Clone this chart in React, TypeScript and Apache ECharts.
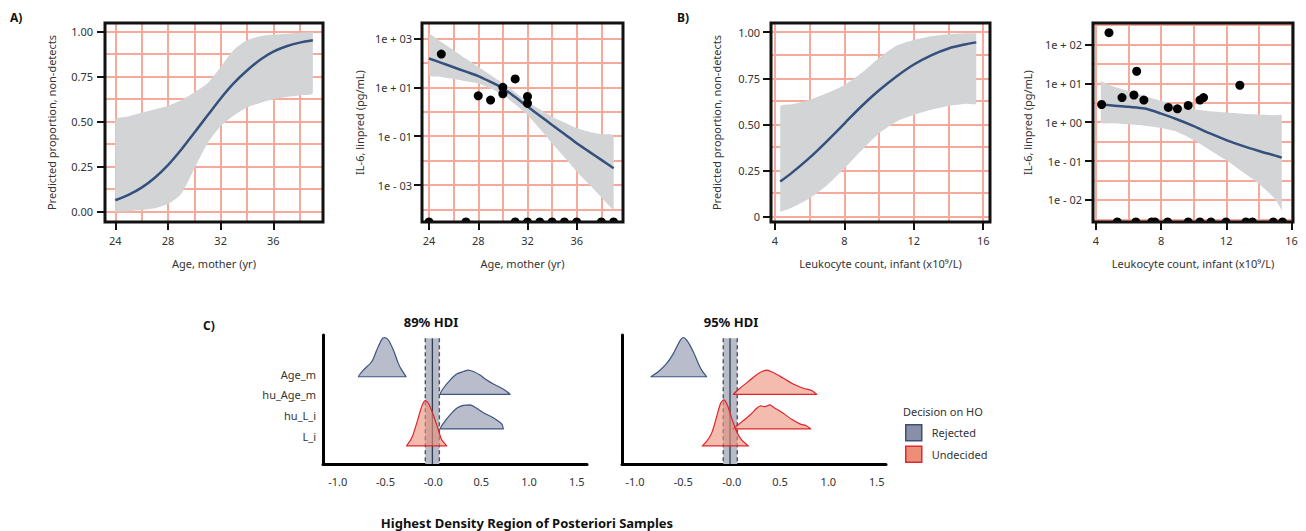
import React, { useEffect, useRef } from 'react';
import * as echarts from 'echarts';

// ---------------- Panel A: maternal age ----------------
const ageGridBreaks = [24, 26, 28, 30, 32, 34, 36, 38];
const ageTickBreaks = [24, 28, 32, 36];
const propGridBreaks = [0, 0.125, 0.25, 0.375, 0.5, 0.625, 0.75, 0.875, 1];
const propTickBreaks = [0, 0.25, 0.5, 0.75, 1];

const ageFitX = [24, 25, 26, 27, 28, 29, 30, 31, 32, 33, 34, 35, 36, 37, 38, 39];
const ageHurdleFit = [0.065, 0.095, 0.135, 0.19, 0.26, 0.345, 0.44, 0.535, 0.63, 0.715, 0.785, 0.845, 0.89, 0.92, 0.94, 0.953];
const ageHurdleUpper = [0.51, 0.53, 0.55, 0.57, 0.59, 0.62, 0.665, 0.715, 0.805, 0.9, 0.953, 0.975, 0.985, 0.99, 0.995, 0.997];
const ageHurdleLower = [0.0, 0.003, 0.01, 0.02, 0.045, 0.1, 0.24, 0.38, 0.475, 0.535, 0.58, 0.605, 0.625, 0.638, 0.648, 0.66];

const il6LogGridA = [-4, -3, -2, -1, 0, 1, 2, 3];
const il6LogTicksA = [-3, -1, 1, 3];
const ageLinpredFit = [2.18, 2.0, 1.82, 1.64, 1.46, 1.22, 0.96, 0.6, 0.21, -0.16, -0.54, -0.91, -1.29, -1.63, -1.97, -2.31];
const ageLinpredUpper = [3.2, 2.85, 2.52, 2.17, 1.84, 1.5, 1.16, 0.8, 0.41, 0.1, -0.2, -0.44, -0.67, -0.82, -0.92, -0.99];
const ageLinpredLower = [1.5, 1.42, 1.34, 1.25, 1.16, 0.95, 0.69, 0.3, -0.13, -0.7, -1.29, -1.86, -2.44, -2.97, -3.5, -4.03];
const ageDetectX = [25, 28, 29, 30, 30, 31, 32, 32];
const ageDetectIL6 = [229, 4.5, 3.0, 10, 5.4, 21.9, 4.2, 2.2]; // pg/mL
const ageNonDetectX = [24, 27, 31, 32, 33, 34, 35, 36, 38, 39];

// ---------------- Panel B: infant leukocytes ----------------
const leukGridBreaks = [4, 6, 8, 10, 12, 14, 16];
const leukTickBreaks = [4, 8, 12, 16];

const leukFitX = [4.3, 5, 6, 7, 8, 9, 10, 11, 12, 13, 14, 15, 15.6];
const leukHurdleFit = [0.19, 0.24, 0.32, 0.41, 0.505, 0.6, 0.685, 0.76, 0.825, 0.875, 0.912, 0.935, 0.945];
const leukHurdleUpper = [0.597, 0.61, 0.633, 0.67, 0.714, 0.78, 0.86, 0.926, 0.958, 0.978, 0.989, 0.994, 0.995];
const leukHurdleLower = [0.027, 0.05, 0.1, 0.17, 0.262, 0.36, 0.452, 0.515, 0.552, 0.58, 0.6, 0.612, 0.615];

const il6LogGridB = [-2.5, -2, -1.5, -1, -0.5, 0, 0.5, 1, 1.5, 2, 2.5];
const il6LogTicksB = [-2, -1, 0, 1, 2];
const leukFitX2 = [4.3, 5, 6, 7, 8, 9, 10, 11, 12, 13, 14, 15, 15.4];
const leukLinpredFit = [0.455, 0.43, 0.395, 0.35, 0.22, 0.07, -0.1, -0.29, -0.46, -0.61, -0.74, -0.86, -0.91];
const leukLinpredUpper = [1.06, 0.93, 0.8, 0.67, 0.55, 0.42, 0.33, 0.28, 0.25, 0.22, 0.2, 0.18, 0.17];
const leukLinpredLower = [0.0, -0.03, -0.06, -0.09, -0.15, -0.25, -0.46, -0.72, -0.98, -1.28, -1.58, -1.98, -2.27];
const leukDetectX = [4.35, 4.8, 5.6, 6.33, 6.5, 6.94, 8.44, 9.0, 9.66, 10.38, 10.6, 12.83];
const leukDetectIL6 = [2.85, 200, 4.3, 5.0, 20.4, 3.7, 2.4, 2.2, 2.7, 3.7, 4.3, 8.9]; // pg/mL
const leukNonDetectX = [5.31, 6.45, 7.42, 7.62, 8.4, 9.66, 10.38, 11.06, 11.98, 13.2, 13.6, 14.88, 15.45];

// ---------------- Panel C: posterior ridges ----------------
const ridgeCats = ['L_i', 'hu_L_i', 'hu_Age_m', 'Age_m'];
const ridgeCatPos = [1, 2, 3, 4];
const ridgeBaseline = [0.56, 1.37, 3.03, 3.87];
const hdiTicks = [-1, -0.5, 0, 0.5, 1, 1.5];

const d89LiX = [-0.279, -0.226, -0.174, -0.122, -0.087, -0.052, 0, 0.052, 0.087, 0.14];
const d89LiY = [0, 0.37, 1.09, 1.88, 2.17, 2.04, 1.48, 0.77, 0.29, 0];
const d89HuLiX = [0.07, 0.105, 0.175, 0.244, 0.314, 0.384, 0.453, 0.523, 0.593, 0.663, 0.715, 0.732];
const d89HuLiY = [0, 0.27, 0.67, 0.99, 1.13, 1.15, 0.99, 0.78, 0.62, 0.43, 0.24, 0];
const d89HuAgeMX = [0.07, 0.105, 0.175, 0.244, 0.314, 0.366, 0.418, 0.488, 0.558, 0.628, 0.715, 0.767, 0.802];
const d89HuAgeMY = [0, 0.29, 0.68, 0.97, 1.09, 1.16, 1.09, 0.92, 0.68, 0.49, 0.29, 0.13, 0];
const d89AgeMX = [-0.784, -0.732, -0.645, -0.592, -0.54, -0.512, -0.47, -0.418, -0.366, -0.341, -0.286];
const d89AgeMY = [0, 0.32, 0.72, 1.28, 1.78, 1.88, 1.76, 1.28, 0.64, 0.4, 0];
const dec89 = ['Undecided', 'Rejected', 'Rejected', 'Rejected'];
const rope89 = [-0.084, 0.063];
const rope89Mid = -0.01;

const d95LiX = [-0.304, -0.259, -0.207, -0.155, -0.114, -0.08, -0.045, 0, 0.052, 0.103, 0.172];
const d95LiY = [0, 0.21, 0.61, 1.4, 2.04, 2.2, 1.96, 1.33, 0.68, 0.29, 0];
const d95HuLiX = [0.01, 0.086, 0.19, 0.259, 0.293, 0.345, 0.396, 0.448, 0.534, 0.62, 0.706, 0.776, 0.817];
const d95HuLiY = [0, 0.27, 0.67, 0.99, 1.1, 1.07, 1.15, 0.99, 0.75, 0.46, 0.24, 0.14, 0];
const d95HuAgeMX = [0.017, 0.086, 0.19, 0.276, 0.362, 0.43, 0.534, 0.637, 0.741, 0.827, 0.879];
const d95HuAgeMY = [0, 0.29, 0.68, 1.0, 1.16, 1.04, 0.77, 0.49, 0.29, 0.18, 0];
const d95AgeMX = [-0.834, -0.759, -0.672, -0.603, -0.535, -0.5, -0.459, -0.397, -0.345, -0.31, -0.259];
const d95AgeMY = [0, 0.24, 0.64, 1.11, 1.72, 1.88, 1.72, 1.2, 0.64, 0.32, 0];
const dec95 = ['Undecided', 'Undecided', 'Undecided', 'Rejected'];
const rope95 = [-0.087, 0.058];
const rope95Mid = -0.017;

const decisions = ['Rejected', 'Undecided'];

// ---------------- styles ----------------
const FONT = '"Noto Sans", "Open Sans", sans-serif';
const SALMON = '#f7a99c';
const BAND = '#d3d4d6';
const FIT = '#34507d';
const TXT = '#333333';
const decFill: Record<string, string> = { Rejected: 'rgba(138,143,169,0.6)', Undecided: 'rgba(236,143,120,0.6)' };
const decStroke: Record<string, string> = { Rejected: '#3d5580', Undecided: '#e0242c' };
const axisText = { color: TXT, fontSize: 11, fontFamily: FONT };
// bounding-box constraint for smoothed polygons (union with the points' own box)
const BOX_ONLY = () => [[Infinity, Infinity], [-Infinity, -Infinity]];

const logLab = (v: number) => `1e ${v < 0 ? '-' : '+'} ${String(Math.abs(v)).padStart(2, '0')}`;

type FitPanel = {
  grid: any; xMin: number; xMax: number; yMin: number; yMax: number;
  xGrid: number[]; yGrid: number[]; xTicks: number[]; yTicks: number[];
  yFmt: (v: number) => string; xName: string; yName: string; yNameGap: number; yLabMargin: number;
  fitX: number[]; fit: number[]; upper: number[]; lower: number[];
  ptsX?: number[]; ptsY?: number[]; censX?: number[];
};

const fitPanels: FitPanel[] = [
  {
    grid: { left: 105, top: 23, width: 218, height: 199 },
    xMin: 23.22, xMax: 39.77, yMin: -0.056, yMax: 1.049,
    xGrid: ageGridBreaks, yGrid: propGridBreaks, xTicks: ageTickBreaks, yTicks: propTickBreaks,
    yFmt: (v) => v.toFixed(2), xName: 'Age, mother (yr)', yName: 'Predicted proportion, non-detects',
    yNameGap: 48, yLabMargin: 12,
    fitX: ageFitX, fit: ageHurdleFit, upper: ageHurdleUpper, lower: ageHurdleLower,
  },
  {
    grid: { left: 422, top: 23, width: 201, height: 199 },
    xMin: 23.43, xMax: 39.76, yMin: -4.51, yMax: 3.63,
    xGrid: ageGridBreaks, yGrid: il6LogGridA, xTicks: ageTickBreaks, yTicks: il6LogTicksA,
    yFmt: logLab, xName: 'Age, mother (yr)', yName: 'IL-6, linpred (pg/mL)',
    yNameGap: 57, yLabMargin: 10,
    fitX: ageFitX, fit: ageLinpredFit, upper: ageLinpredUpper, lower: ageLinpredLower,
    ptsX: ageDetectX, ptsY: ageDetectIL6.map((v) => Math.log10(v)), censX: ageNonDetectX,
  },
  {
    grid: { left: 771, top: 23, width: 219, height: 199 },
    xMin: 3.77, xMax: 16.39, yMin: -0.029, yMax: 1.05,
    xGrid: leukGridBreaks, yGrid: propGridBreaks, xTicks: leukTickBreaks, yTicks: propTickBreaks,
    yFmt: (v) => (v === 0 ? '0' : v.toFixed(2)), xName: 'Leukocyte count, infant (x10⁹/L)',
    yName: 'Predicted proportion, non-detects', yNameGap: 49, yLabMargin: 11,
    fitX: leukFitX, fit: leukHurdleFit, upper: leukHurdleUpper, lower: leukHurdleLower,
  },
  {
    grid: { left: 1093, top: 23, width: 200, height: 199 },
    xMin: 3.82, xMax: 16.09, yMin: -2.566, yMax: 2.55,
    xGrid: leukGridBreaks, yGrid: il6LogGridB, xTicks: leukTickBreaks, yTicks: il6LogTicksB,
    yFmt: logLab, xName: 'Leukocyte count, infant (x10⁹/L)', yName: 'IL-6, linpred (pg/mL)',
    yNameGap: 60, yLabMargin: 11,
    fitX: leukFitX2, fit: leukLinpredFit, upper: leukLinpredUpper, lower: leukLinpredLower,
    ptsX: leukDetectX, ptsY: leukDetectIL6.map((v) => Math.log10(v)), censX: leukNonDetectX,
  },
];

type RidgePanel = {
  grid: any; xMin: number; xMax: number; xs: number[][]; ys: number[][];
  dec: string[]; rope: number[]; ropeMid: number; showCats: boolean;
};

const ridgePanels: RidgePanel[] = [
  {
    grid: { left: 323, top: 335, width: 264, height: 129 }, xMin: -1.154, xMax: 1.607,
    xs: [d89LiX, d89HuLiX, d89HuAgeMX, d89AgeMX], ys: [d89LiY, d89HuLiY, d89HuAgeMY, d89AgeMY],
    dec: dec89, rope: rope89, ropeMid: rope89Mid, showCats: true,
  },
  {
    grid: { left: 622, top: 335, width: 264, height: 129 }, xMin: -1.134, xMax: 1.596,
    xs: [d95LiX, d95HuLiX, d95HuAgeMX, d95AgeMX], ys: [d95LiY, d95HuLiY, d95HuAgeMY, d95AgeMY],
    dec: dec95, rope: rope95, ropeMid: rope95Mid, showCats: false,
  },
];
const RIDGE_YMIN = -0.31;
const RIDGE_YMAX = 5.87;
const ROPE_TOP = 5.71;

function buildOption() {
  const grids: any[] = [];
  const xAxes: any[] = [];
  const yAxes: any[] = [];
  const series: any[] = [];

  fitPanels.forEach((p, gi) => {
    grids.push({ ...p.grid, show: true, borderColor: '#111', borderWidth: 3, backgroundColor: 'transparent', z: 20 });
    xAxes.push({
      type: 'value', gridIndex: gi, min: p.xMin, max: p.xMax,
      axisLine: { show: false, onZero: false },
      axisTick: { show: true, customValues: p.xTicks, length: 8, lineStyle: { color: '#111', width: 2 } },
      axisLabel: { ...axisText, customValues: p.xTicks, margin: 13 },
      splitLine: { show: false },
      name: p.xName, nameLocation: 'middle', nameGap: 36, nameTextStyle: { ...axisText },
    });
    yAxes.push({
      type: 'value', gridIndex: gi, min: p.yMin, max: p.yMax,
      axisLine: { show: false, onZero: false },
      axisTick: { show: true, customValues: p.yTicks, length: 8, lineStyle: { color: '#111', width: 2 } },
      axisLabel: { ...axisText, customValues: p.yTicks, formatter: p.yFmt, margin: p.yLabMargin },
      splitLine: { show: false },
      name: p.yName, nameLocation: 'middle', nameGap: p.yNameGap, nameTextStyle: { ...axisText },
    });
    // grid lines
    series.push({
      type: 'line', xAxisIndex: gi, yAxisIndex: gi, z: 1, silent: true,
      data: [[p.fitX[0], p.fit[0]]], symbol: 'none', lineStyle: { opacity: 0 },
      markLine: {
        silent: true, symbol: ['none', 'none'], label: { show: false },
        lineStyle: { color: SALMON, width: 2, type: 'solid' },
        data: [...p.xGrid.map((v) => ({ xAxis: v })), ...p.yGrid.map((v) => ({ yAxis: v }))],
      },
    });
    // confidence band
    series.push({
      type: 'custom', xAxisIndex: gi, yAxisIndex: gi, z: 10, silent: true, clip: true,
      data: [[p.fitX[0], p.lower[0]]],
      renderItem: (_params: any, api: any) => {
        const pts: number[][] = [];
        p.fitX.forEach((x, i) => pts.push(api.coord([x, p.upper[i]])));
        for (let i = p.fitX.length - 1; i >= 0; i--) pts.push(api.coord([p.fitX[i], p.lower[i]]));
        return { type: 'polygon', shape: { points: pts, smooth: 0.25, smoothConstraint: BOX_ONLY() }, style: { fill: BAND } };
      },
    });
    // fit line
    series.push({
      type: 'line', xAxisIndex: gi, yAxisIndex: gi, z: 11, silent: true,
      data: p.fitX.map((x, i) => [x, p.fit[i]]), smooth: 0.3, showSymbol: false,
      lineStyle: { color: FIT, width: 2.5 },
    });
    if (p.ptsX && p.ptsY) {
      series.push({
        type: 'scatter', xAxisIndex: gi, yAxisIndex: gi, z: 12, silent: true,
        data: p.ptsX.map((x, i) => [x, p.ptsY![i]]), symbolSize: 9,
        itemStyle: { color: '#000', opacity: 1 },
      });
    }
    if (p.censX) {
      series.push({
        type: 'custom', xAxisIndex: gi, yAxisIndex: gi, z: 12, silent: true, clip: true,
        data: p.censX.map((x) => [x, p.yMin]),
        renderItem: (_params: any, api: any) => {
          const c = api.coord([api.value(0), api.value(1)]);
          return { type: 'circle', shape: { cx: c[0], cy: c[1], r: 4.5 }, style: { fill: '#000' } };
        },
      });
    }
  });

  ridgePanels.forEach((p, k) => {
    const gi = fitPanels.length + k;
    grids.push({ ...p.grid, show: false });
    xAxes.push({
      type: 'value', gridIndex: gi, min: p.xMin, max: p.xMax,
      axisLine: { show: true, onZero: false, lineStyle: { color: '#000', width: 3 } },
      axisTick: { show: false },
      axisLabel: {
        ...axisText, customValues: hdiTicks, margin: 12,
        formatter: (v: number) => (Math.abs(v) < 1e-9 ? '-0.0' : v.toFixed(1)),
      },
      splitLine: { show: false },
    });
    yAxes.push({
      type: 'value', gridIndex: gi, min: RIDGE_YMIN, max: RIDGE_YMAX,
      axisLine: { show: true, onZero: false, lineStyle: { color: '#000', width: 3 } },
      axisTick: { show: false },
      axisLabel: {
        ...axisText, show: p.showCats, customValues: ridgeCatPos, margin: 7,
        formatter: (v: number) => ridgeCats[Math.round(v) - 1] ?? '',
      },
      splitLine: { show: false },
    });
    // ROPE band
    series.push({
      type: 'custom', xAxisIndex: gi, yAxisIndex: gi, z: 5, silent: true,
      data: [[p.ropeMid, 0]],
      renderItem: (_params: any, api: any) => {
        const tl = api.coord([p.rope[0], ROPE_TOP]);
        const br = api.coord([p.rope[1], RIDGE_YMIN]);
        const mt = api.coord([p.ropeMid, ROPE_TOP]);
        return {
          type: 'group',
          children: [
            { type: 'rect', shape: { x: tl[0], y: tl[1], width: br[0] - tl[0], height: br[1] - tl[1] }, style: { fill: '#b7bcc6' } },
            { type: 'line', shape: { x1: tl[0], y1: tl[1], x2: tl[0], y2: br[1] }, style: { stroke: '#4b5563', lineWidth: 1.4, lineDash: [4, 3] } },
            { type: 'line', shape: { x1: br[0], y1: tl[1], x2: br[0], y2: br[1] }, style: { stroke: '#4b5563', lineWidth: 1.4, lineDash: [4, 3] } },
            { type: 'line', shape: { x1: mt[0], y1: tl[1], x2: mt[0], y2: br[1] }, style: { stroke: '#2f3d52', lineWidth: 1.3 } },
          ],
        };
      },
    });
    // ridges by decision
    decisions.forEach((dName) => {
      const idxs = ridgeCats.map((_, i) => i).filter((i) => p.dec[i] === dName).reverse();
      series.push({
        type: 'custom', name: dName, xAxisIndex: gi, yAxisIndex: gi, z: 6, silent: true,
        itemStyle: { color: decFill[dName] },
        data: idxs.map((i) => [p.xs[i][0], ridgeBaseline[i]]),
        renderItem: (params: any, api: any) => {
          const i = idxs[params.dataIndex];
          const base = ridgeBaseline[i];
          const pts = p.xs[i].map((x, j) => api.coord([x, base + p.ys[i][j]]));
          return {
            type: 'polygon',
            shape: { points: pts, smooth: 0.3, smoothConstraint: BOX_ONLY() },
            style: { fill: decFill[dName], stroke: decStroke[dName], lineWidth: 1.2 },
          };
        },
      });
    });
  });

  const bold = (size: number) => `bold ${size}px ${FONT}`;
  const graphic = [
    { type: 'text', x: 10, y: 17, style: { text: 'A)', font: bold(12), fill: '#111', textVerticalAlign: 'middle' } },
    { type: 'text', x: 677, y: 17, style: { text: 'B)', font: bold(12), fill: '#111', textVerticalAlign: 'middle' } },
    { type: 'text', x: 203, y: 325.5, style: { text: 'C)', font: bold(12), fill: '#111', textVerticalAlign: 'middle' } },
    { type: 'text', x: 431, y: 322, style: { text: '89% HDI', font: bold(13), fill: '#111', textAlign: 'center', textVerticalAlign: 'middle' } },
    { type: 'text', x: 731, y: 322, style: { text: '95% HDI', font: bold(13), fill: '#111', textAlign: 'center', textVerticalAlign: 'middle' } },
    { type: 'text', x: 527, y: 523, style: { text: 'Highest Density Region of Posteriori Samples', font: bold(13), fill: '#111', textAlign: 'center', textVerticalAlign: 'middle' } },
    { type: 'text', x: 903, y: 411, style: { text: 'Decision on HO', font: `11px ${FONT}`, fill: TXT, textVerticalAlign: 'middle' } },
  ];

  return {
    animation: false,
    backgroundColor: '#ffffff',
    grid: grids,
    xAxis: xAxes,
    yAxis: yAxes,
    series,
    graphic,
    legend: {
      orient: 'vertical', left: 905, top: 424, itemWidth: 16, itemHeight: 16, itemGap: 4,
      padding: 0, icon: 'rect', selectedMode: false,
      textStyle: { ...axisText, padding: [0, 0, 0, 5] },
      data: [
        { name: 'Rejected', itemStyle: { color: '#8a8fa9', borderColor: '#3e5070', borderWidth: 1.5 } },
        { name: 'Undecided', itemStyle: { color: '#ec8f78', borderColor: '#e0282e', borderWidth: 1.5 } },
      ],
    },
  };
}

export default function App() {
  const ref = useRef<HTMLDivElement>(null);
  useEffect(() => {
    if (!ref.current) return;
    const chart = echarts.init(ref.current, null, { renderer: 'svg' });
    chart.setOption(buildOption() as any);
    return () => chart.dispose();
  }, []);
  return (
    <div
      ref={ref}
      style={{ position: 'fixed', left: 0, top: 0, width: 1306, height: 531, background: '#fff' }}
    />
  );
}
